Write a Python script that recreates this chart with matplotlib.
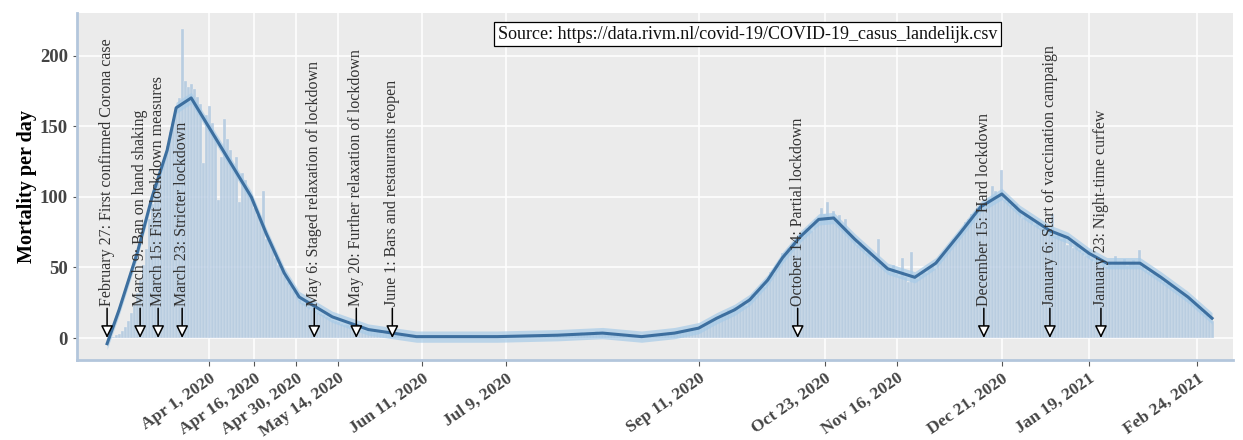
import pandas as pd
import matplotlib.pyplot as plt
import matplotlib.dates as mdates

# daily deaths, starting 27 Feb 2020
start_date = '2020-02-27'
deaths = [
    0, 1, 1, 2, 3, 5, 8,
    12, 18, 24, 32, 41, 52, 63,
    84, 95, 102, 110, 119, 127, 136,
    146, 155, 162, 170, 219, 182, 178,
    180, 176, 171, 166, 124, 158, 164,
    152, 143, 98, 128, 155, 141, 133,
    122, 128, 96, 117, 112, 104, 100,
    92, 87, 83, 104, 70, 68, 63,
    57, 52, 49, 44, 40, 37, 33,
    30, 27, 25, 24, 22, 20, 19,
    18, 17, 16, 15, 14, 13, 12,
    11, 10, 9, 9, 8, 7, 7,
    6, 6, 5, 5, 5, 4, 4,
    4, 3, 3, 3, 2, 3, 2,
    2, 2, 1, 2, 1, 1, 2,
    1, 1, 2, 1, 1, 0, 1,
    1, 2, 1, 1, 1, 0, 1,
    1, 1, 2, 1, 0, 1, 1,
    1, 1, 1, 2, 1, 1, 0,
    1, 1, 1, 2, 1, 1, 1,
    1, 2, 1, 1, 2, 1, 2,
    2, 1, 2, 2, 3, 2, 2,
    3, 2, 3, 3, 4, 3, 4,
    4, 3, 5, 4, 4, 3, 4,
    3, 3, 2, 2, 2, 1, 2,
    1, 2, 1, 2, 1, 2, 2,
    2, 3, 2, 3, 3, 4, 4,
    4, 5, 4, 6, 5, 6, 7,
    7, 8, 9, 10, 11, 12, 13,
    15, 14, 18, 16, 20, 19, 22,
    21, 24, 26, 23, 28, 31, 30,
    34, 38, 36, 42, 47, 45, 52,
    55, 60, 58, 64, 62, 68, 70,
    74, 72, 78, 80, 76, 84, 86,
    92, 88, 96, 85, 90, 82, 87,
    80, 84, 76, 72, 70, 66, 68,
    64, 60, 62, 56, 55, 70, 52,
    50, 48, 47, 52, 45, 44, 57,
    43, 40, 61, 45, 42, 44, 48,
    46, 50, 52, 49, 56, 58, 60,
    63, 66, 70, 72, 75, 78, 82,
    84, 88, 86, 92, 95, 97, 94,
    99, 108, 104, 100, 119, 98, 96,
    94, 92, 95, 90, 85, 88, 84,
    86, 80, 82, 78, 77, 74, 76,
    88, 72, 74, 70, 72, 66, 68,
    64, 66, 62, 60, 58, 62, 56,
    54, 57, 52, 55, 50, 53, 52,
    58, 54, 52, 56, 51, 54, 55,
    52, 62, 50, 48, 47, 45, 46,
    44, 42, 40, 38, 37, 35, 34,
    33, 31, 30, 28, 26, 24, 22,
    20, 18, 16, 14, 12,
]

# smoothed trend (loess line), read at a few points
smooth_dates = ['2020-02-27', '2020-03-02', '2020-03-08', '2020-03-13', '2020-03-18',
                '2020-03-21', '2020-03-26', '2020-04-01', '2020-04-09', '2020-04-15',
                '2020-04-20', '2020-04-26', '2020-05-01', '2020-05-12', '2020-05-24',
                '2020-06-09', '2020-07-06', '2020-07-26', '2020-08-10', '2020-08-23',
                '2020-09-03', '2020-09-11', '2020-09-17', '2020-09-23', '2020-09-28',
                '2020-10-04', '2020-10-09', '2020-10-15', '2020-10-21', '2020-10-26',
                '2020-11-02', '2020-11-13', '2020-11-22', '2020-11-29', '2020-12-07',
                '2020-12-14', '2020-12-21', '2020-12-27', '2021-01-06', '2021-01-12',
                '2021-01-19', '2021-01-25', '2021-02-05', '2021-02-12', '2021-02-21',
                '2021-03-01']
smooth_vals = [-4, 20, 60, 100, 133, 163, 170, 149, 121, 100,
               74, 46, 29, 15, 6, 1, 1, 2, 3.5, 1,
               3.5, 7, 14, 20, 27, 41, 57, 72, 84, 85,
               70, 49, 43, 53, 74, 93, 102, 90, 76, 71,
               60, 53, 53, 43, 29, 14]

event_dates = ['2020-02-27', '2020-03-09', '2020-03-15', '2020-03-23', '2020-05-06',
               '2020-05-20', '2020-06-01', '2020-10-14', '2020-12-15', '2021-01-06',
               '2021-01-23']
event_labels = ['February 27: First confirmed Corona case',
                'March 9: Ban on hand shaking',
                'March 15: First lockdown measures',
                'March 23: Stricter lockdown',
                'May 6: Staged relaxation of lockdown',
                'May 20: Further relaxation of lockdown',
                'June 1: Bars and restaurants reopen',
                'October 14: Partial lockdown',
                'December 15: Hard lockdown',
                'January 6: Start of vaccination campaign',
                'January 23: Night-time curfew']

tick_dates = ['2020-04-01', '2020-04-16', '2020-04-30', '2020-05-14', '2020-06-11',
              '2020-07-09', '2020-09-11', '2020-10-23', '2020-11-16', '2020-12-21',
              '2021-01-19', '2021-02-24']
y_ticks = [0, 50, 100, 150, 200]

source_text = 'Source: https://data.rivm.nl/covid-19/COVID-19_casus_landelijk.csv'

plt.rcParams['font.family'] = ['Liberation Serif', 'DejaVu Serif']

days = pd.date_range(start_date, periods=len(deaths), freq='D')
s_dates = pd.to_datetime(smooth_dates)
e_dates = pd.to_datetime(event_dates)
t_dates = pd.to_datetime(tick_dates)

fig = plt.figure(figsize=(12.43, 4.4), dpi=100)
ax = fig.add_axes([0.062, 0.182, 0.930, 0.788])
ax.set_facecolor('#ebebeb')

ax.bar(days, deaths, width=1.0, color='#a9c3dd', alpha=0.75,
       edgecolor='#f4f6f9', linewidth=0.25, zorder=2)

sv = pd.Series(smooth_vals)
ax.fill_between(s_dates, sv - 4, sv + 4, color='#a7cbe8', alpha=0.7, lw=0, zorder=3)
ax.plot(s_dates, smooth_vals, color='#3d6f9f', lw=2.2, zorder=4)

for d, lab in zip(e_dates, event_labels):
    ax.annotate(lab, xy=(d, 0), xytext=(d, 23), rotation=90,
                ha='center', va='bottom', fontsize=11.5, color='#333333',
                arrowprops=dict(arrowstyle='-|>,head_length=0.65,head_width=0.32',
                                fc='white', ec='black', lw=1.1,
                                shrinkA=0, shrinkB=0),
                zorder=5)

ax.text(0.58, 0.94, source_text, transform=ax.transAxes, ha='center', va='center',
        fontsize=13, color='#111111',
        bbox=dict(boxstyle='square,pad=0.2', fc='white', ec='black', lw=0.9), zorder=6)

ax.set_xlim(pd.Timestamp('2020-02-17'), pd.Timestamp('2021-03-08'))
ax.set_ylim(-15.5, 230)

ax.set_xticks(t_dates)
ax.xaxis.set_major_formatter(mdates.DateFormatter('%b %-d, %Y'))
for lab in ax.get_xticklabels():
    lab.set_rotation(35)
    lab.set_ha('right')
    lab.set_rotation_mode('anchor')
    lab.set_fontweight('bold')
    lab.set_fontsize(12.5)
    lab.set_color('#444444')
ax.set_yticks(y_ticks)
ax.tick_params(axis='y', labelsize=13.5, colors='#555555', length=3, labelcolor='#444444')
ax.tick_params(axis='x', length=4, colors='#555555', labelcolor='#444444')
for lab in ax.get_yticklabels():
    lab.set_fontweight('bold')

ax.grid(True, color='white', lw=1.1, zorder=0)
ax.set_axisbelow(True)

for side in ['top', 'right']:
    ax.spines[side].set_visible(False)
for side in ['left', 'bottom']:
    ax.spines[side].set_color('#b3c6dc')
    ax.spines[side].set_linewidth(2)

ax.set_ylabel('Mortality per day', fontsize=14.5, fontweight='bold', labelpad=2)

fig.savefig('out.png', dpi=100)
